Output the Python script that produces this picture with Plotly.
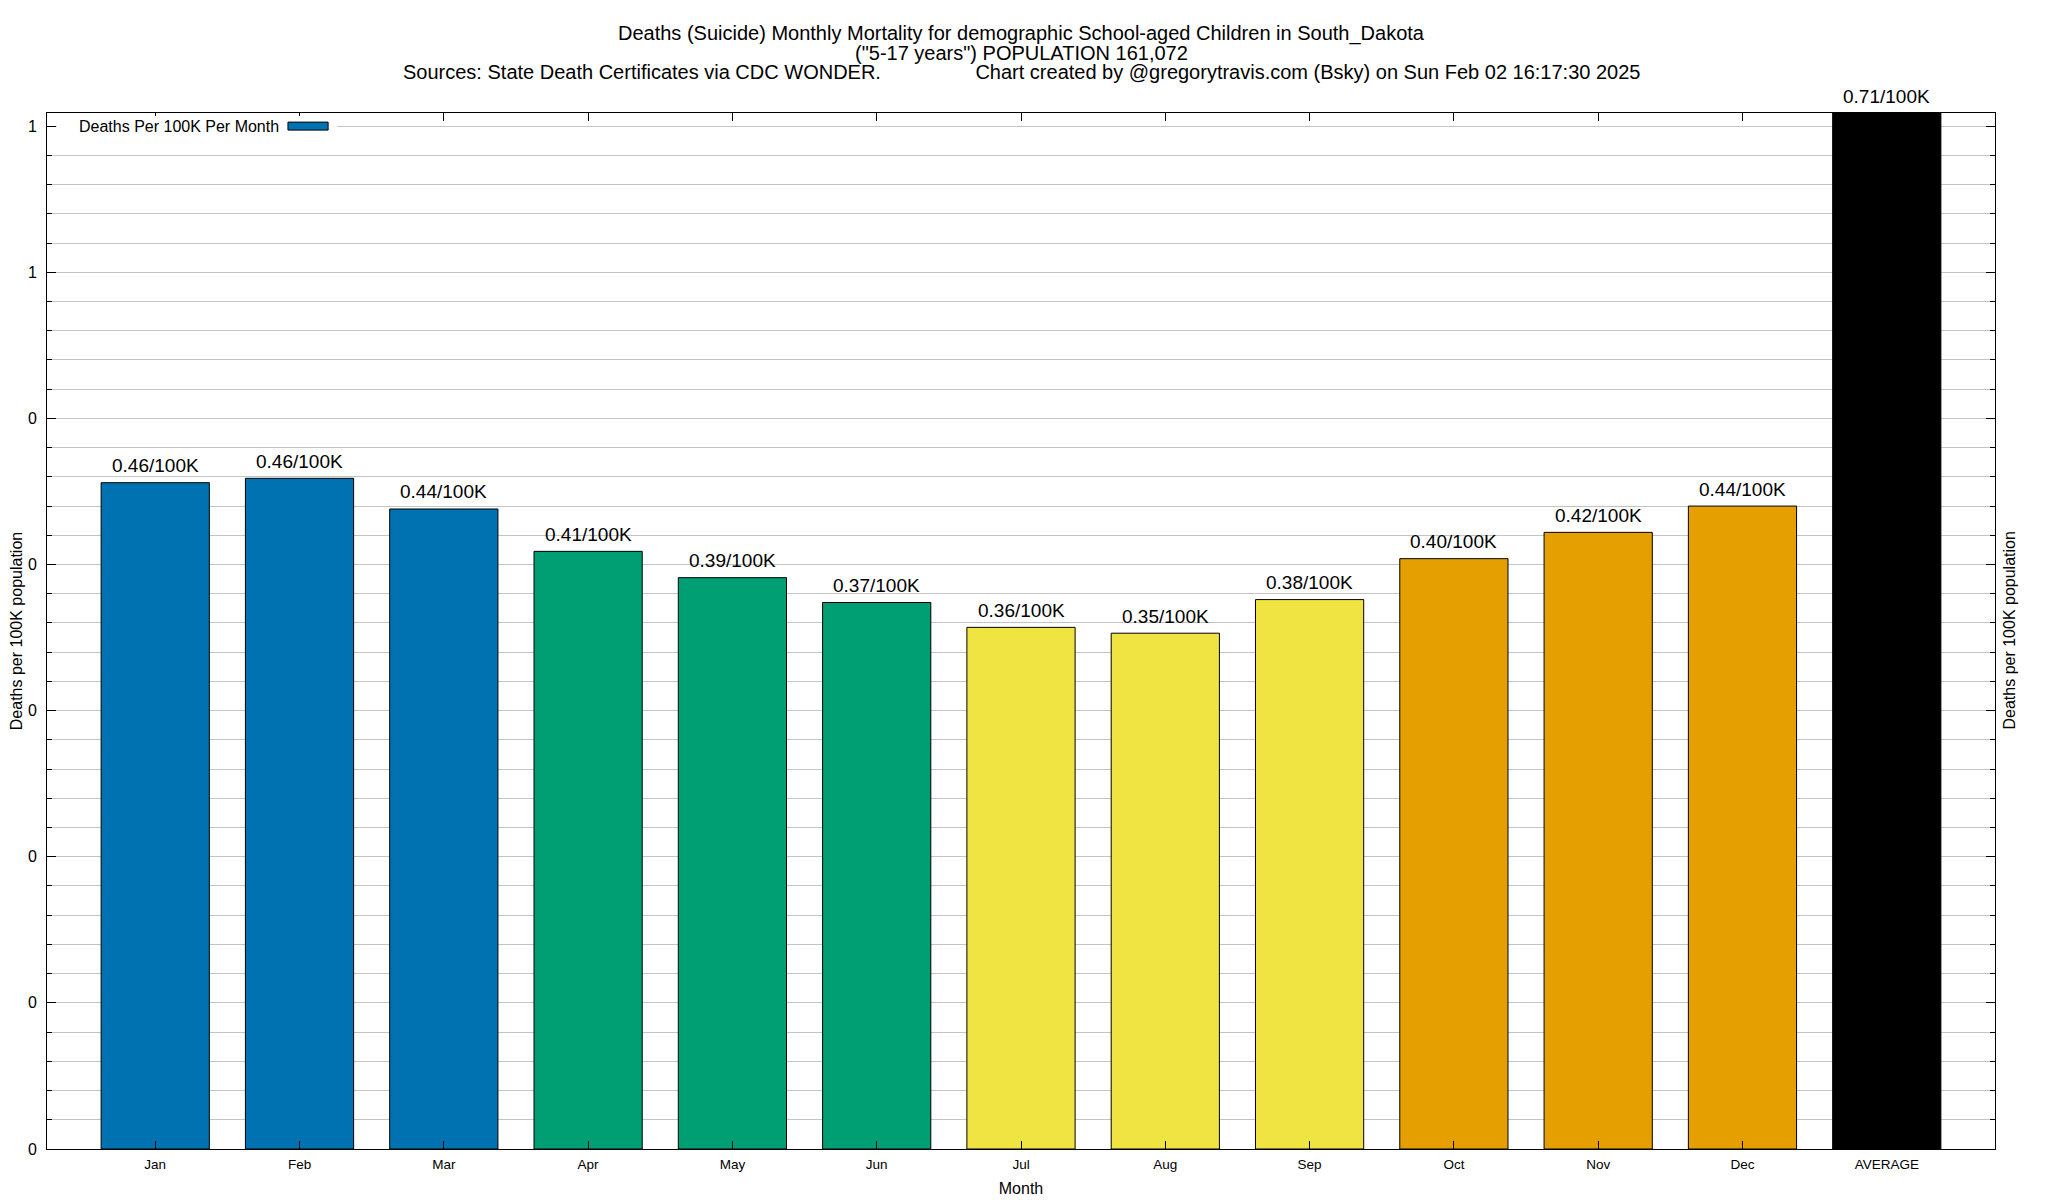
import plotly.graph_objects as go

months = ["Jan", "Feb", "Mar", "Apr", "May", "Jun", "Jul", "Aug", "Sep", "Oct", "Nov", "Dec", "AVERAGE"]
rates = [0.456, 0.459, 0.438, 0.409, 0.391, 0.374, 0.357, 0.353, 0.376, 0.404, 0.422, 0.440, 0.71]
rate_labels = ["0.46/100K", "0.46/100K", "0.44/100K", "0.41/100K", "0.39/100K", "0.37/100K",
               "0.36/100K", "0.35/100K", "0.38/100K", "0.40/100K", "0.42/100K", "0.44/100K", "0.71/100K"]
bar_colors = ["#0072B2", "#0072B2", "#0072B2", "#009E73", "#009E73", "#009E73",
              "#F0E442", "#F0E442", "#F0E442", "#E69F00", "#E69F00", "#E69F00", "#000000"]
y_tickvals = [0.0, 0.1, 0.2, 0.3, 0.4, 0.5, 0.6, 0.7]
y_ticktext = ["0", "0", "0", "0", "0", "0", "1", "1"]
y_max = 0.709

title_lines = [
    "Deaths (Suicide) Monthly Mortality for demographic School-aged Children in South_Dakota",
    "(\"5-17 years\") POPULATION 161,072",
    "Sources: State Death Certificates via CDC WONDER." + "\u00a0" * 17 +
    "Chart created by @gregorytravis.com (Bsky) on Sun Feb 02 16:17:30 2025",
]

FONT = "Liberation Sans, Arial, Helvetica, sans-serif"

fig = go.Figure()
fig.add_trace(go.Bar(
    x=list(range(len(months))), y=rates,
    marker=dict(color=bar_colors, line=dict(color="black", width=1)),
    width=0.75, name="Deaths Per 100K Per Month", showlegend=False,
    hoverinfo="x+y",
))

annotations = []
for i, (v, t) in enumerate(zip(rates, rate_labels)):
    annotations.append(dict(x=i, y=min(v, y_max), xref="x", yref="y", text=t, showarrow=False,
                            yanchor="middle", yshift=17, font=dict(size=19, color="black", family=FONT)))

# title lines (tight spacing)
for k, line in enumerate(title_lines):
    annotations.append(dict(x=0.5, y=1, xref="paper", yref="paper", yshift=80 - 19.5 * k,
                            yanchor="middle", text=line, showarrow=False,
                            font=dict(size=20, color="black", family=FONT)))

# legend (gnuplot style: text then sample)
annotations.append(dict(x=0.0154, y=0.9873, xref="paper", yref="paper", xanchor="left", yanchor="middle",
                        text="Deaths Per 100K Per Month", showarrow=False,
                        font=dict(size=16, color="black", family=FONT)))
# right axis title
annotations.append(dict(x=1, y=0.5, xref="paper", yref="paper", xanchor="left", yanchor="middle",
                        xshift=3, textangle=-90, text="Deaths per 100K population", showarrow=False,
                        font=dict(size=16, color="black", family=FONT)))

shapes = [
    dict(type="rect", xref="paper", yref="paper", x0=0.005, x1=0.149, y0=0.977, y1=0.997,
         fillcolor="white", line=dict(width=0), layer="above"),
    dict(type="rect", xref="paper", yref="paper", x0=0.1237, x1=0.1443, y0=0.9835, y1=0.9912,
         fillcolor="#0072B2", line=dict(color="black", width=1), layer="above"),
]

fig.update_layout(
    width=2048, height=1200,
    margin=dict(l=39, r=61, t=105, b=59),
    paper_bgcolor="white", plot_bgcolor="white",
    font=dict(family=FONT, color="black"),
    showlegend=False,
    annotations=annotations, shapes=shapes,
    bargap=0.25,
    xaxis=dict(
        range=[-0.75, 12.75], tickmode="array", tickvals=list(range(len(months))), ticktext=months,
        tickfont=dict(size=13.5), ticks="inside", ticklen=8, tickcolor="black",
        showline=True, linecolor="black", linewidth=1, mirror="ticks",
        showgrid=False, zeroline=False, ticklabelstandoff=3,
        title=dict(text="Month", font=dict(size=16), standoff=11), automargin=False,
    ),
    yaxis=dict(
        range=[0, y_max], tickmode="array", tickvals=y_tickvals, ticktext=y_ticktext,
        tickfont=dict(size=16), ticks="inside", ticklen=9, tickcolor="black",
        showline=True, linecolor="black", linewidth=1, mirror="ticks",
        showgrid=True, gridcolor="#c4c4c4", gridwidth=1, zeroline=False,
        minor=dict(dtick=0.02, tick0=0, showgrid=True, gridcolor="#c4c4c4", gridwidth=1,
                   ticks="inside", ticklen=5, tickcolor="black"),
        ticklabelstandoff=6,
        title=dict(text="Deaths per 100K population", font=dict(size=16), standoff=1), automargin=False,
    ),
)

fig.write_html("out.html")
